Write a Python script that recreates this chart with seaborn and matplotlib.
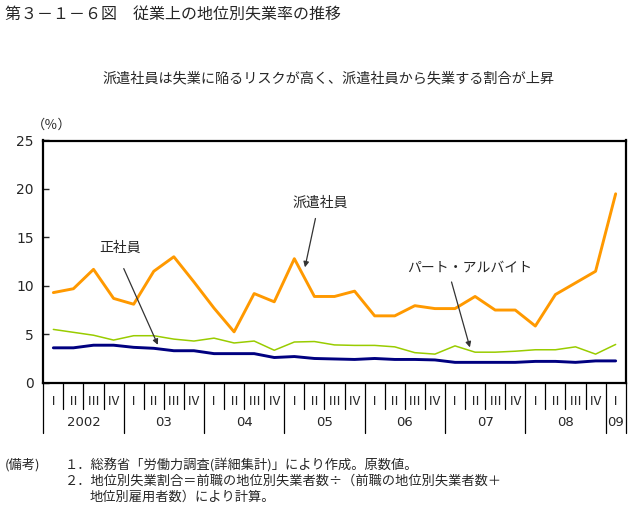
import matplotlib
matplotlib.use("Agg")
import matplotlib.pyplot as plt
import matplotlib.transforms as mtransforms
import seaborn as sns
import pandas as pd

sns.set_style("white")
plt.rcParams['font.family'] = ['Noto Sans CJK JP', 'DejaVu Sans']

# ---------------- data ----------------
quarters = ["Ⅰ", "Ⅱ", "Ⅲ", "Ⅳ"] * 7 + ["Ⅰ"]
years = ["2002", "03", "04", "05", "06", "07", "08", "09"]
haken = [9.3, 9.7, 11.7, 8.7, 8.1, 11.5, 13.0, 10.4, 7.7, 5.25,
         9.2, 8.35, 12.8, 8.9, 8.9, 9.45, 6.9, 6.9, 7.95, 7.65,
         7.65, 8.9, 7.5, 7.5, 5.85, 9.1, 10.3, 11.5, 19.5]
part = [5.5, 5.2, 4.9, 4.4, 4.85, 4.85, 4.5, 4.3, 4.6, 4.1,
        4.3, 3.35, 4.2, 4.25, 3.9, 3.85, 3.85, 3.7, 3.1, 2.95,
        3.8, 3.15, 3.15, 3.25, 3.4, 3.4, 3.7, 2.95, 3.95]
seishain = [3.6, 3.6, 3.87, 3.87, 3.65, 3.55, 3.3, 3.3, 3.0, 3.0,
            3.0, 2.6, 2.7, 2.5, 2.45, 2.4, 2.5, 2.4, 2.4, 2.35,
            2.1, 2.1, 2.1, 2.1, 2.2, 2.2, 2.1, 2.25, 2.25]
series_names = ["派遣社員", "パート・アルバイト", "正社員"]
yticks = [0, 5, 10, 15, 20, 25]

n = len(quarters)
idx = list(range(n))
df = pd.DataFrame({
    "q": idx * 3,
    "rate": haken + part + seishain,
    "series": [series_names[0]] * n + [series_names[1]] * n + [series_names[2]] * n,
})

colors = {"派遣社員": "#FF9900", "パート・アルバイト": "#99CC00", "正社員": "#000080"}
widths = {"派遣社員": 2.1, "パート・アルバイト": 1.1, "正社員": 2.1}

fig = plt.figure(figsize=(6.35, 5.08), dpi=100)
ax = fig.add_axes([43.3 / 635, 1 - 382.7 / 508, (625.7 - 43.3) / 635, (382.7 - 140.5) / 508])

for name in ["パート・アルバイト", "派遣社員", "正社員"]:
    sub = df[df["series"] == name]
    sns.lineplot(data=sub, x="q", y="rate", color=colors[name],
                 linewidth=widths[name], ax=ax, legend=False)

ax.set_xlim(-0.5, n - 0.5)
ax.set_ylim(0, 25)
ax.set_xlabel("")
ax.set_ylabel("")
for s in ax.spines.values():
    s.set_linewidth(1.6)
    s.set_color("black")

ax.set_yticks(yticks)
ax.set_yticklabels([str(v) for v in yticks], fontsize=10, family=["DejaVu Sans"])
ax.tick_params(axis="y", direction="in", length=4, width=1, pad=7, left=True)

ax.set_xticks(idx)
ax.set_xticklabels(quarters, fontsize=9.5)
ax.tick_params(axis="x", length=0, pad=9)

trans = mtransforms.blended_transform_factory(ax.transData, ax.transAxes)
# quarter separators
for i in range(n + 1):
    x = i - 0.5
    if i % 4 == 0 or i == n:
        ax.plot([x, x], [0, -50 / 242.2], transform=trans, color="black",
                lw=0.9, clip_on=False)
    else:
        ax.plot([x, x], [0, -26 / 242.2], transform=trans, color="black",
                lw=0.9, clip_on=False)
# year labels
for k, yl in enumerate(years):
    start = k * 4
    end = min(start + 4, n)
    ax.text((start + end - 1) / 2, -40 / 242.2, yl, transform=trans,
            ha="center", va="center", fontsize=9.5, family=["DejaVu Sans"])

ax.text(-0.1, 25 + 15.5 / 9.69, "（％）", ha="center", va="center", fontsize=9.5)

# annotations
arrow = dict(arrowstyle="-|>", color="#333333", lw=0.9, mutation_scale=8)
ax.text(13.28, 18.55, "派遣社員", ha="center", va="center", fontsize=10)
ax.annotate("", xy=(12.5, 11.63), xytext=(13.08, 17.23), arrowprops=arrow)
ax.text(3.32, 13.9, "正社員", ha="center", va="center", fontsize=10)
ax.annotate("", xy=(5.26, 3.65), xytext=(3.45, 12.04), arrowprops=arrow)
ax.text(20.75, 11.84, "パート・アルバイト", ha="center", va="center", fontsize=10)
ax.annotate("", xy=(20.78, 3.37), xytext=(19.79, 10.67), arrowprops=arrow)

# titles
fig.text(5 / 635, 1 - 15 / 508, "第３－１－６図　従業上の地位別失業率の推移",
         ha="left", va="center", fontsize=11.5)
fig.text(328 / 635, 1 - 78 / 508,
         "派遣社員は失業に陥るリスクが高く、派遣社員から失業する割合が上昇",
         ha="center", va="center", fontsize=10.2)

# notes
fig.text(5 / 635, 1 - 465 / 508, "(備考)", ha="left", va="center", fontsize=9.5)
fig.text(65 / 635, 1 - 465 / 508, "１．総務省「労働力調査(詳細集計)」により作成。原数値。",
         ha="left", va="center", fontsize=9.5)
fig.text(65 / 635, 1 - 481 / 508,
         "２．地位別失業割合＝前職の地位別失業者数÷（前職の地位別失業者数＋",
         ha="left", va="center", fontsize=9.5)
fig.text(90 / 635, 1 - 497 / 508, "地位別雇用者数）により計算。",
         ha="left", va="center", fontsize=9.5)

fig.savefig("out.png", dpi=100)
